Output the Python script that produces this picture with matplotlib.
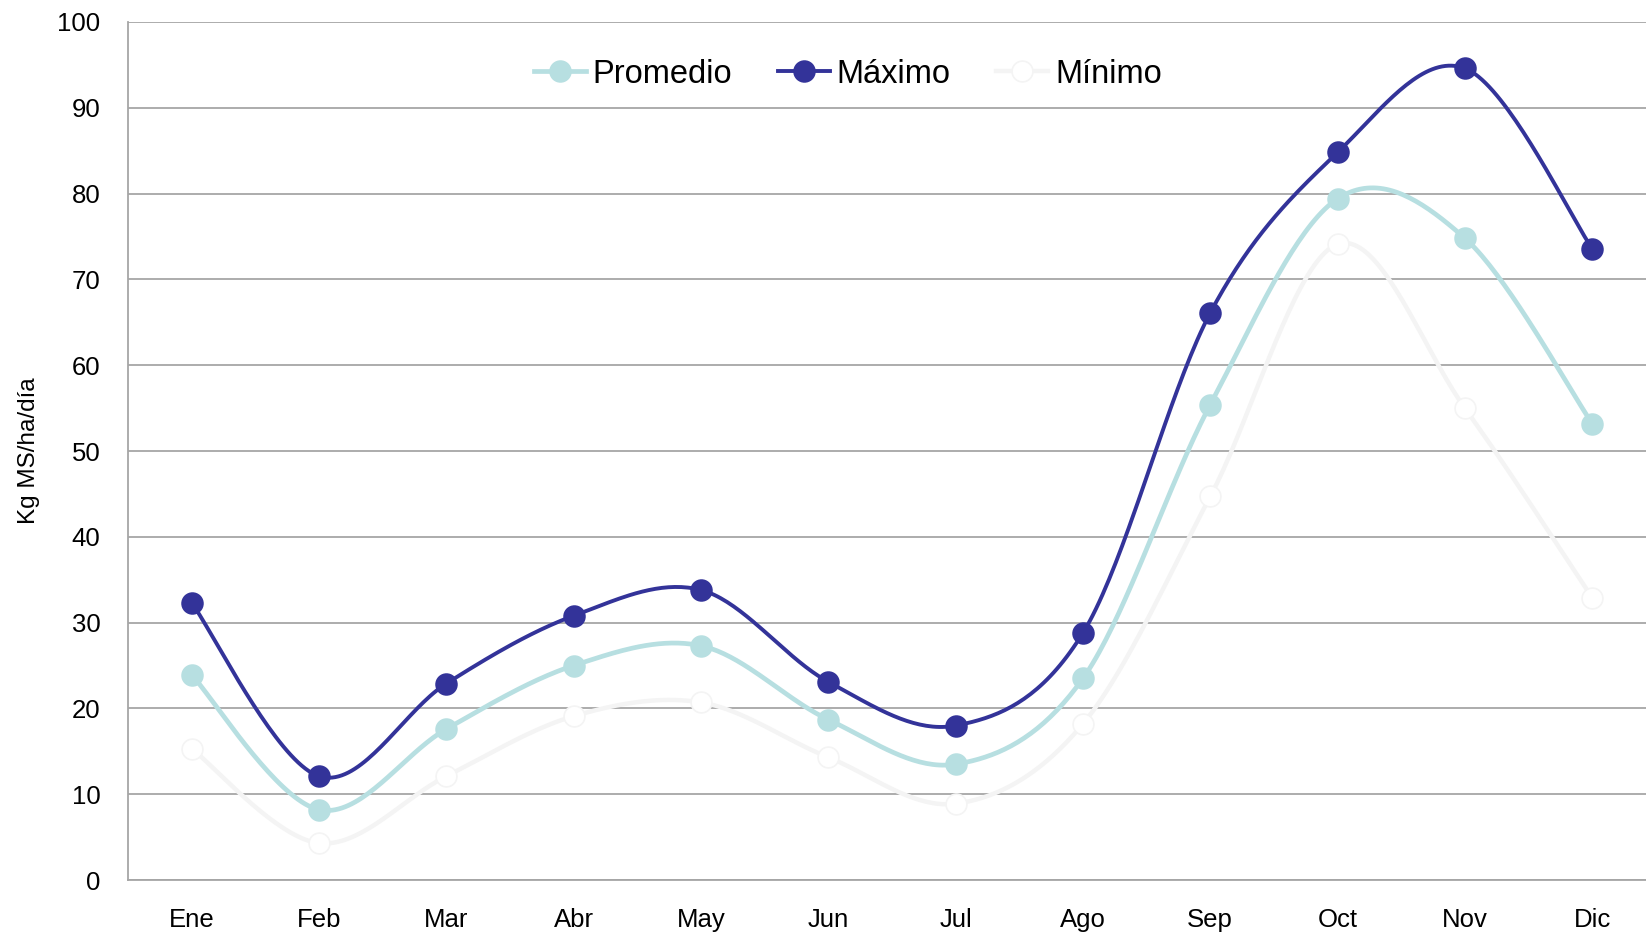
import matplotlib
matplotlib.use('Agg')
import matplotlib.pyplot as plt
import numpy as np

plt.rcParams['font.family'] = ['Liberation Sans', 'DejaVu Sans']

meses = ['Ene', 'Feb', 'Mar', 'Abr', 'May', 'Jun', 'Jul', 'Ago', 'Sep', 'Oct', 'Nov', 'Dic']
promedio = [23.9, 8.2, 17.6, 25.0, 27.3, 18.7, 13.5, 23.5, 55.4, 79.4, 74.8, 53.2]
maximo = [32.3, 12.1, 22.9, 30.8, 33.8, 23.1, 18.0, 28.8, 66.1, 84.8, 94.6, 73.6]
minimo = [15.3, 4.3, 12.1, 19.1, 20.7, 14.3, 8.9, 18.2, 44.7, 74.1, 55.0, 32.9]


def suavizar(x, y, n=40):
    # curva suavizada tipo excel (bezier con puntos de control catmull-rom)
    x = np.asarray(x, float)
    y = np.asarray(y, float)
    p = np.column_stack([x, y])
    p_ext = np.vstack([p[0], p, p[-1]])
    t = np.linspace(0, 1, n)[:, None]
    trozos = []
    for i in range(len(p) - 1):
        p0, p1, p2, p3 = p_ext[i], p_ext[i + 1], p_ext[i + 2], p_ext[i + 3]
        c1 = p1 + (p2 - p0) / 6
        c2 = p2 - (p3 - p1) / 6
        b = ((1 - t) ** 3) * p1 + 3 * ((1 - t) ** 2) * t * c1 + 3 * (1 - t) * t ** 2 * c2 + t ** 3 * p2
        trozos.append(b if i == 0 else b[1:])
    c = np.vstack(trozos)
    return c[:, 0], c[:, 1]


fig = plt.figure(figsize=(16.46, 9.36), dpi=100)
ax = fig.add_axes([0.0778, 0.0598, 0.9282, 0.9167])

x = np.arange(len(meses))

series = [
    (promedio, 'Promedio', '#B7DFE1', '#B7DFE1', '#B7DFE1', 3.4, 3),
    (maximo, 'Máximo', '#333399', '#333399', '#333399', 2.8, 5),
    (minimo, 'Mínimo', '#F4F4F4', 'white', '#F4F4F4', 3.2, 2),
]

lineas = []
for datos, nombre, color, relleno, borde, lw, z in series:
    xs, ys = suavizar(x, datos)
    ax.plot(xs, ys, color=color, lw=lw, zorder=z, solid_capstyle='round')
    ax.plot(x, datos, ls='none', marker='o', ms=15, mfc=relleno, mec=borde, mew=1.2, zorder=z + 0.5)
    l, = ax.plot([], [], color=color, lw=lw, marker='o', ms=15, mfc=relleno, mec=borde, mew=1.2)
    lineas.append(l)

ax.set_xlim(-0.5, 11.5)
ax.set_ylim(0, 100)
ax.set_yticks(range(0, 101, 10))
ax.set_xticks(x)
ax.set_xticklabels(meses)
ax.tick_params(axis='both', length=0, labelsize=18.5)
ax.tick_params(axis='x', pad=20)
ax.tick_params(axis='y', pad=20)
ax.grid(axis='y', color='#A6A6A6', lw=1.3, zorder=0)
ax.set_axisbelow(True)
for lado in ['top', 'right']:
    ax.spines[lado].set_visible(False)
for lado in ['left', 'bottom']:
    ax.spines[lado].set_color('#A6A6A6')
    ax.spines[lado].set_linewidth(1.3)

ax.set_ylabel('Kg MS/ha/día', fontsize=17.5, labelpad=12)

ax.legend(lineas, ['Promedio', 'Máximo', 'Mínimo'], loc='center', bbox_to_anchor=(0.471, 0.939),
          ncol=3, frameon=False, fontsize=23.5, handlelength=1.6, handletextpad=0.2, columnspacing=1.4)

fig.savefig('out.png', dpi=100)
